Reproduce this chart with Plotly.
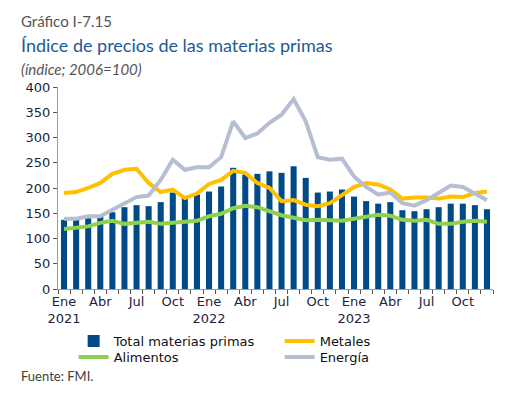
import plotly.graph_objects as go

months = list(range(36))
tick_pos = [0, 3, 6, 9, 12, 15, 18, 21, 24, 27, 30, 33]
tick_text = ["Ene<br>2021", "Abr", "Jul", "Oct", "Ene<br>2022", "Abr", "Jul", "Oct",
             "Ene<br>2023", "Abr", "Jul", "Oct"]

total = [137, 137, 140, 144, 152, 162, 166, 164, 172, 191, 180, 187,
         193, 203, 240, 227, 228, 233, 230, 243, 220, 191, 193, 197,
         183, 174, 169, 172, 156, 154, 158, 162, 169, 169, 166, 158]
metales = [190, 192, 200, 210, 228, 236, 238, 210, 192, 197, 180, 189,
           208, 216, 234, 230, 210, 200, 174, 176, 167, 164, 170, 187,
           202, 210, 207, 197, 179, 181, 181, 179, 183, 182, 190, 193]
alimentos = [119, 121, 124, 131, 135, 129, 131, 133, 129, 131, 133, 135,
             144, 149, 160, 165, 162, 154, 146, 141, 136, 137, 137, 135,
             139, 144, 147, 145, 137, 135, 137, 129, 129, 133, 135, 133]
energia = [139, 139, 144, 144, 157, 170, 182, 185, 216, 256, 236, 241,
           241, 261, 332, 299, 308, 329, 345, 376, 332, 261, 256, 258,
           223, 202, 187, 191, 170, 165, 176, 190, 205, 202, 190, 176]

TICK_FONT = dict(family="DejaVu Sans", size=13, color="#1b2540")
LEG_FONT = dict(family="DejaVu Sans", size=13, color="#111111")

fig = go.Figure()
fig.add_trace(go.Bar(x=months, y=total, name="Total materias primas", legend="legend",
                     marker=dict(color="#004a87", line=dict(width=0)), width=0.5))
fig.add_trace(go.Scatter(x=months, y=metales, name="Metales", mode="lines", legend="legend",
                         line=dict(color="#ffc000", width=4)))
fig.add_trace(go.Scatter(x=months, y=alimentos, name="Alimentos", mode="lines", legend="legend2",
                         line=dict(color="#8fd14f", width=4)))
fig.add_trace(go.Scatter(x=months, y=energia, name="Energía", mode="lines", legend="legend2",
                         line=dict(color="#b6bed1", width=4)))

def px_x(px):
    return (px - 58) / 435

def px_y(py):
    return (289 - py) / 202

leg_common = dict(orientation="h", xanchor="left", yanchor="middle",
                  entrywidth=161, font=LEG_FONT, tracegroupgap=0,
                  itemwidth=30, bgcolor="rgba(0,0,0,0)")

fig.update_layout(
    width=498, height=390,
    margin=dict(l=50, r=13, t=79, b=109, autoexpand=False),
    plot_bgcolor="white", paper_bgcolor="white",
    font=TICK_FONT,
    showlegend=True,
    legend=dict(x=0.036, y=px_y(341), **leg_common),
    legend2=dict(x=0.036, y=px_y(357), **leg_common),
    xaxis=dict(range=[-0.5, 35.5], tickvals=tick_pos, ticktext=tick_text,
               ticks="", showline=True, linecolor="#9a9a9a", linewidth=1,
               showgrid=False, zeroline=False, tickfont=TICK_FONT,
               minor=dict(tick0=-0.5, dtick=1, ticks="outside", ticklen=4,
                          tickcolor="#555555", showgrid=False)),
    yaxis=dict(range=[0, 400], dtick=50, ticks="outside", ticklen=4,
               tickcolor="#555555", showline=True, linecolor="#9a9a9a",
               linewidth=1, showgrid=False, zeroline=False, tickfont=TICK_FONT),
)

fig.add_annotation(text="Gráfico I-7.15", xref="paper", yref="paper",
                   x=px_x(19), y=px_y(21), xanchor="left", yanchor="middle",
                   showarrow=False, font=dict(family="Lato", size=15, color="#555555"))
fig.add_annotation(text="Índice de precios de las materias primas", xref="paper", yref="paper",
                   x=px_x(19), y=px_y(45), xanchor="left", yanchor="middle",
                   showarrow=False, font=dict(family="Lato", size=18, color="#1d5a96"))
fig.add_annotation(text="<i>(índice; 2006=100)</i>", xref="paper", yref="paper",
                   x=px_x(19), y=px_y(69), xanchor="left", yanchor="middle",
                   showarrow=False, font=dict(family="Lato", size=15, color="#555555"))
fig.add_annotation(text="Fuente: FMI.", xref="paper", yref="paper",
                   x=px_x(19), y=px_y(376), xanchor="left", yanchor="middle",
                   showarrow=False, font=dict(family="Lato", size=13, color="#404040"))

fig.write_html("out.html")
